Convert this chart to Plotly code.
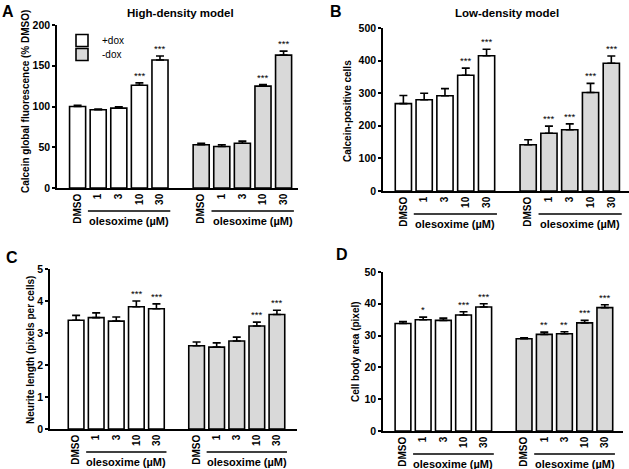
import plotly.graph_objects as go

W, H = 629, 469
FONT = "Liberation Sans, Arial, sans-serif"

# ---------------- data ----------------
dose_labels = ["DMSO", "1", "3", "10", "30"]
pos_plus = [0, 1, 2, 3, 4]
pos_minus = [6, 7, 8, 9, 10]
series_names = ["+dox", "-dox"]

A_plus = [100, 96, 98, 126, 157]
A_plus_err = [1.5, 1, 1.5, 3, 5]
A_minus = [53, 51, 55, 125, 163]
A_minus_err = [2, 2, 2.5, 2, 5]
A_plus_sig = ["", "", "", "***", "***"]
A_minus_sig = ["", "", "", "***", "***"]

B_plus = [268, 280, 292, 355, 415]
B_plus_err = [25, 20, 22, 22, 20]
B_minus = [142, 177, 188, 302, 392]
B_minus_err = [15, 22, 18, 28, 22]
B_plus_sig = ["", "", "", "***", "***"]
B_minus_sig = ["", "***", "***", "***", "***"]

C_plus = [3.40, 3.48, 3.37, 3.82, 3.76]
C_plus_err = [0.15, 0.15, 0.13, 0.18, 0.15]
C_minus = [2.60, 2.56, 2.75, 3.22, 3.58]
C_minus_err = [0.12, 0.13, 0.12, 0.12, 0.13]
C_plus_sig = ["", "", "", "***", "***"]
C_minus_sig = ["", "", "", "***", "***"]

D_plus = [33.8, 35.0, 34.8, 36.5, 39.0]
D_plus_err = [0.6, 0.8, 0.7, 1.0, 1.0]
D_minus = [29.0, 30.4, 30.6, 34.0, 38.8]
D_minus_err = [0.3, 0.7, 0.6, 0.8, 0.9]
D_plus_sig = ["", "*", "", "***", "***"]
D_minus_sig = ["", "**", "**", "***", "***"]

y_titles = ["Calcein global fluorescence (% DMSO)", "Calcein-positive cells",
            "Neurite length (pixels per cells)", "Cell body area (pixel)"]
panel_titles = ["High-density model", "Low-density model"]
panel_letters = ["A", "B", "C", "D"]
y_ranges = [[0, 200], [0, 500], [0, 5], [0, 50]]
y_dticks = [50, 100, 1, 10]
treatment_label = "olesoxime (µM)"

# ---------------- layout geometry (pixels) ----------------
panels = [
    dict(px=(57, 298), py=(25, 188), xr=[-1.0, 10.7], yt=(25, 102)),
    dict(px=(383, 629), py=(28, 191), xr=[-0.98, 10.85], yt=(348, 111)),
    dict(px=(50, 297), py=(269, 429), xr=[-1.3, 11.0], yt=(30, 350)),
    dict(px=(383, 623), py=(272, 431), xr=[-0.99, 10.9], yt=(355, 352)),
]
letter_pos = [(8, 11), (336, 12), (12, 257), (342, 254)]
title_pos = [(180, 13), (507, 13)]

def fx(px):
    return px / W

def fy(py):
    return 1 - py / H

data = [
    (A_plus, A_plus_err, A_minus, A_minus_err, A_plus_sig, A_minus_sig),
    (B_plus, B_plus_err, B_minus, B_minus_err, B_plus_sig, B_minus_sig),
    (C_plus, C_plus_err, C_minus, C_minus_err, C_plus_sig, C_minus_sig),
    (D_plus, D_plus_err, D_minus, D_minus_err, D_plus_sig, D_minus_sig),
]

fig = go.Figure()
annotations = []
shapes = []
layout = {}

for i, (p, d) in enumerate(zip(panels, data)):
    n = i + 1
    xa = "x" if n == 1 else f"x{n}"
    ya = "y" if n == 1 else f"y{n}"
    vp, ep, vm, em, sp, sm = d
    for k, (name, pos, vals, errs, sigs, fill) in enumerate([
        (series_names[0], pos_plus, vp, ep, sp, "white"),
        (series_names[1], pos_minus, vm, em, sm, "#d9d9d9"),
    ]):
        fig.add_trace(go.Bar(
            x=pos, y=vals, name=name, xaxis=xa, yaxis=ya,
            width=0.78, marker=dict(color=fill, line=dict(color="black", width=1.6)),
            error_y=dict(type="data", array=errs, arrayminus=[0] * len(errs),
                         symmetric=False, color="black", thickness=1.6, width=4),
            showlegend=(i == 0), legendgroup=name,
            legend="legend" if k == 0 else "legend2",
        ))
        for xv, v, e, s in zip(pos, vals, errs, sigs):
            if s:
                annotations.append(dict(
                    x=xv, y=v + e, xref=xa, yref=ya, text=s, showarrow=False,
                    yanchor="bottom", yshift=0, font=dict(size=9.5, color="black", family=FONT)))
    layout[f"xaxis{'' if n == 1 else n}"] = dict(
        domain=[fx(p["px"][0]), fx(p["px"][1])], range=p["xr"], anchor=ya,
        tickvals=pos_plus + pos_minus, ticktext=dose_labels * 2, tickangle=-90,
        ticks="", showline=True, linewidth=1.6, linecolor="black", showgrid=False,
        zeroline=False, tickfont=dict(size=10, color="black", family=FONT, weight="bold"),
        fixedrange=True,
    )
    layout[f"yaxis{'' if n == 1 else n}"] = dict(
        domain=[fy(p["py"][1]), fy(p["py"][0])], range=y_ranges[i], dtick=y_dticks[i],
        anchor=xa, ticks="outside", ticklen=3, tickwidth=1.6, tickcolor="black",
        showline=True, linewidth=1.6, linecolor="black", showgrid=False, zeroline=False,
        tickfont=dict(size=10.5, color="black", family=FONT, weight="bold"),
        fixedrange=True,
    )
    # y-axis title
    annotations.append(dict(x=fx(p["yt"][0]), y=fy(p["yt"][1]), xref="paper", yref="paper",
                            text=y_titles[i], textangle=-90, showarrow=False,
                            xanchor="center", yanchor="middle",
                            font=dict(size=10, color="black", family=FONT, weight="bold")))
    # treatment brackets under the dose labels
    y_line = fy(p["py"][1] + 23)
    y_text = fy(p["py"][1] + 33)
    for grp in (pos_plus, pos_minus):
        x0, x1 = grp[1] - 0.5, grp[-1] + 0.5
        shapes.append(dict(type="line", xref=xa, yref="paper", x0=x0, x1=x1,
                           y0=y_line, y1=y_line, line=dict(color="black", width=1.6)))
        annotations.append(dict(x=(x0 + x1) / 2, y=y_text, xref=xa, yref="paper",
                                text=treatment_label, showarrow=False, yanchor="middle",
                                font=dict(size=11, color="black", family=FONT, weight="bold")))

for (lx, ly), letter in zip(letter_pos, panel_letters):
    annotations.append(dict(x=fx(lx), y=fy(ly), xref="paper", yref="paper", text=letter,
                            showarrow=False, xanchor="center", yanchor="middle",
                            font=dict(size=16, color="black", family=FONT, weight="bold")))
for (tx, ty), t in zip(title_pos, panel_titles):
    annotations.append(dict(x=fx(tx), y=fy(ty), xref="paper", yref="paper", text=t,
                            showarrow=False, xanchor="center", yanchor="middle",
                            font=dict(size=11.5, color="black", family=FONT, weight="bold")))

leg_common = dict(xanchor="left", yanchor="top", bgcolor="rgba(0,0,0,0)",
                  font=dict(size=10, color="black", family=FONT), itemwidth=30)
fig.update_layout(
    width=W, height=H, margin=dict(l=0, r=0, t=0, b=0, autoexpand=False),
    paper_bgcolor="white", plot_bgcolor="white", barmode="overlay",
    showlegend=True,
    legend=dict(x=fx(62), y=fy(26), **leg_common),
    legend2=dict(x=fx(62), y=fy(40), **leg_common),
    annotations=annotations, shapes=shapes,
    **layout,
)

fig.write_html("out.html", config={"displayModeBar": False},
               post_script="document.body.style.margin='0';document.body.style.overflow='hidden';")
